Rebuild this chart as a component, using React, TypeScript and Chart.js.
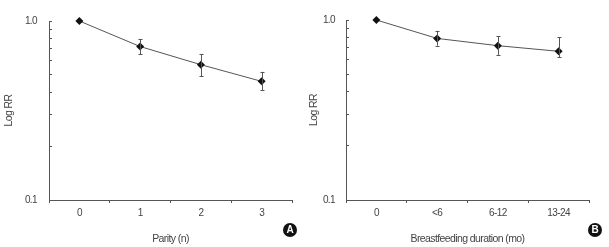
import React, { useEffect, useRef } from "react";
import { Chart, registerables } from "chart.js";

Chart.register(...registerables);

// Panel A: parity
const parityCategories = ["0", "1", "2", "3"];
const parityRR = [1.0, 0.72, 0.57, 0.46];
const parityLow = [null, 0.65, 0.49, 0.41];
const parityHigh = [null, 0.79, 0.65, 0.52];

// Panel B: breastfeeding duration
const bfCategories = ["0", "<6", "6-12", "13-24"];
const bfRR = [1.0, 0.79, 0.72, 0.67];
const bfLow = [null, 0.72, 0.64, 0.62];
const bfHigh = [null, 0.87, 0.81, 0.8];

const yTickValues = [0.1, 0.2, 0.3, 0.4, 0.5, 0.6, 0.7, 0.8, 0.9, 1.0];
const yLabelTicks = [0.1, 1.0];
const yTitle = "Log RR";

const FONT = "'Liberation Sans', Arial, sans-serif";
const TEXT = "#444";
const AXIS = "#555";

interface PanelProps {
  categories: string[];
  values: number[];
  low: (number | null)[];
  high: (number | null)[];
  xTitle: string;
  badge: string;
  width: number;
  yWidth: number;
  rightPad: number;
  labelPad: number;
}

function Panel(p: PanelProps) {
  const ref = useRef<HTMLCanvasElement | null>(null);
  useEffect(() => {
    if (!ref.current) return;
    const narrowText = {
      id: "narrowText",
      beforeLayout(chart: any) {
        chart.ctx.letterSpacing = "-0.6px";
      },
      beforeDraw(chart: any) {
        chart.ctx.letterSpacing = "-0.6px";
      },
    };
    const errorBars = {
      id: "errorBars",
      afterDatasetsDraw(chart: any) {
        const ctx = chart.ctx;
        const xs = chart.scales.x;
        const ys = chart.scales.y;
        ctx.save();
        ctx.strokeStyle = "#555";
        ctx.lineWidth = 1;
        p.categories.forEach((_c, i) => {
          const lo = p.low[i];
          const hi = p.high[i];
          if (lo == null || hi == null) return;
          const x = Math.round(xs.getPixelForValue(i)) + 0.5;
          const y1 = ys.getPixelForValue(lo);
          const y2 = ys.getPixelForValue(hi);
          ctx.beginPath();
          ctx.moveTo(x, y1);
          ctx.lineTo(x, y2);
          ctx.moveTo(x - 2, Math.round(y1) + 0.5);
          ctx.lineTo(x + 2, Math.round(y1) + 0.5);
          ctx.moveTo(x - 2, Math.round(y2) + 0.5);
          ctx.lineTo(x + 2, Math.round(y2) + 0.5);
          ctx.stroke();
        });
        ctx.restore();
      },
    };
    const badgePlugin = {
      id: "badge",
      afterDraw(chart: any) {
        const ctx = chart.ctx;
        const cx = 290;
        const cy = 230;
        ctx.save();
        ctx.letterSpacing = "0px";
        ctx.fillStyle = "#111";
        ctx.beginPath();
        ctx.arc(cx, cy, 7, 0, Math.PI * 2);
        ctx.fill();
        ctx.fillStyle = "#fff";
        ctx.font = "bold 10px 'Liberation Sans', sans-serif";
        ctx.textAlign = "center";
        ctx.textBaseline = "middle";
        ctx.fillText(p.badge, cx, cy + 0.5);
        ctx.restore();
      },
    };
    const chart = new Chart(ref.current, {
      type: "line",
      data: {
        labels: p.categories,
        datasets: [
          {
            data: p.values,
            borderColor: "#555",
            borderWidth: 1,
            pointStyle: "rectRot",
            pointRadius: 4,
            pointBackgroundColor: "#111",
            pointBorderColor: "#111",
            pointBorderWidth: 0,
            tension: 0,
            clip: false,
          },
        ],
      },
      options: {
        animation: false,
        responsive: false,
        layout: { padding: { top: 10, right: p.rightPad, left: 0, bottom: 0 } },
        plugins: { legend: { display: false }, tooltip: { enabled: false } },
        scales: {
          x: {
            type: "category",
            offset: true,
            grid: {
              offset: true,
              drawOnChartArea: false,
              drawTicks: true,
              tickLength: 3,
              color: AXIS,
            },
            border: { display: true, color: AXIS, width: 1 },
            ticks: { color: TEXT, font: { family: FONT, size: 10 }, padding: 4 },
            title: {
              display: true,
              text: p.xTitle,
              color: TEXT,
              font: { family: FONT, size: 10.5 },
              padding: { top: 0, bottom: 2 },
            },
            afterFit(scale: any) {
              scale.height = 47;
            },
          },
          y: {
            type: "logarithmic",
            min: 0.1,
            max: 1,
            afterBuildTicks(scale: any) {
              scale.ticks = yTickValues.map((v) => ({ value: v, major: false }));
            },
            grid: {
              drawOnChartArea: false,
              drawTicks: true,
              tickLength: -3,
              color: AXIS,
            },
            border: { display: true, color: AXIS, width: 1 },
            ticks: {
              autoSkip: false,
              color: TEXT,
              font: { family: FONT, size: 10 },
              padding: p.labelPad,
              callback: (v: any) => {
                const n = Number(v);
                const hit = yLabelTicks.find((t) => Math.abs(t - n) < 1e-9);
                return hit != null ? hit.toFixed(1) : "";
              },
            },
            title: {
              display: true,
              text: yTitle,
              color: TEXT,
              font: { family: FONT, size: 10.5 },
              padding: { top: 3, bottom: 0 },
            },
            afterFit(scale: any) {
              scale.width = p.yWidth;
            },
          },
        },
      },
      plugins: [narrowText, errorBars, badgePlugin],
    } as any);
    return () => chart.destroy();
  }, []);
  return <canvas ref={ref} width={p.width} height={247} style={{ width: p.width, height: 247, display: "block" }} />;
}

export default function App() {
  return (
    <div style={{ position: "absolute", left: 0, top: 0, width: 609, height: 247, background: "#fff" }}>
      <div style={{ position: "absolute", left: 0, top: 0 }}>
        <Panel
          categories={parityCategories}
          values={parityRR}
          low={parityLow}
          high={parityHigh}
          xTitle="Parity (n)"
          badge="A"
          width={300}
          yWidth={49}
          rightPad={8}
          labelPad={15}
        />
      </div>
      <div style={{ position: "absolute", left: 305, top: 0 }}>
        <Panel
          categories={bfCategories}
          values={bfRR}
          low={bfLow}
          high={bfHigh}
          xTitle="Breastfeeding duration (mo)"
          badge="B"
          width={304}
          yWidth={41}
          rightPad={20}
          labelPad={14}
        />
      </div>
    </div>
  );
}
